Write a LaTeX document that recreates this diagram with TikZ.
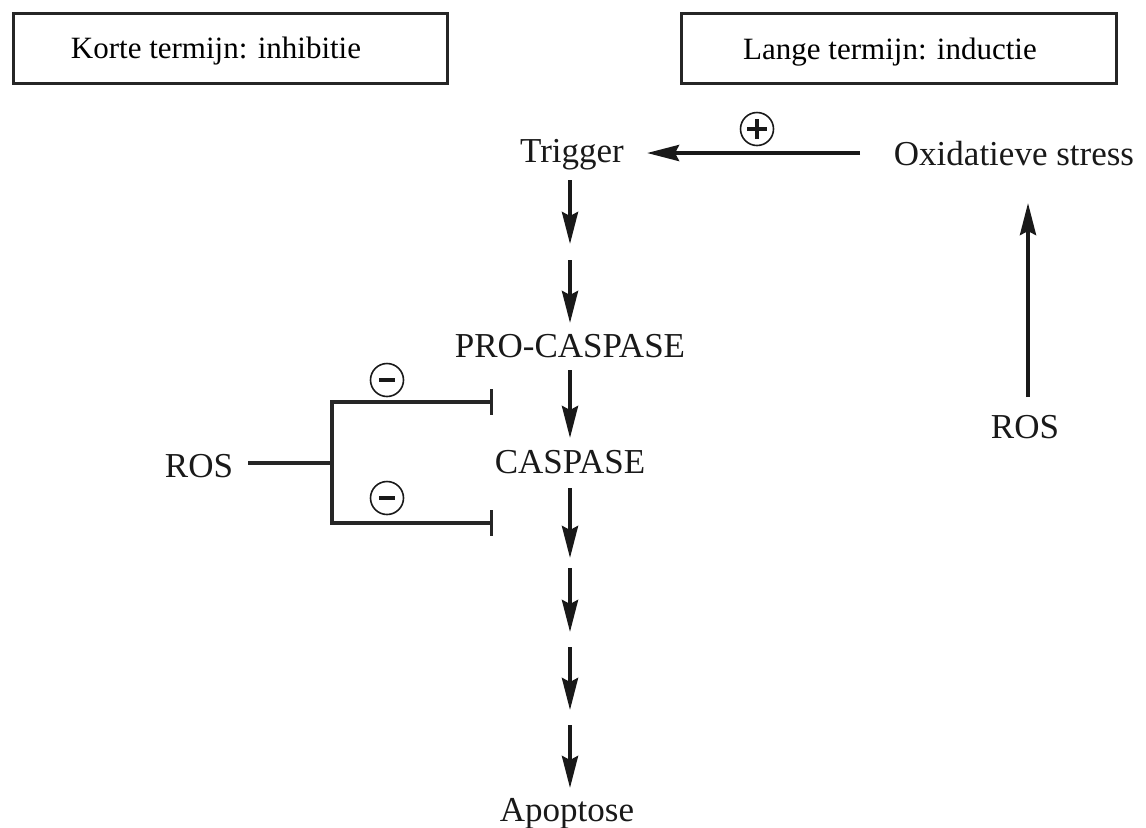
\documentclass[tikz,border=0pt]{standalone}
\usepackage{fontspec}
\setmainfont{Liberation Serif}
\usetikzlibrary{arrows.meta}
\begin{document}
\begin{tikzpicture}[x=0.5pt,y=-0.5pt,
  lbl/.style={anchor=base,inner sep=0pt,text=black!90,font=\fontsize{17.5pt}{20pt}\selectfont},
  boxlbl/.style={anchor=base,inner sep=0pt,font=\fontsize{15.5pt}{18pt}\selectfont},
  frame/.style={draw=black!85,line width=1.5pt,inner sep=0pt,minimum height=35pt},
  arr/.style={draw=black!90,line width=2pt,-{Stealth[length=16pt,width=8pt,inset=2pt]}},
  inh/.style={draw=black!85,line width=1.75pt},
  sign/.style={circle,draw=black!90,line width=0.8pt,minimum size=16.5pt,inner sep=0pt},
  signbar/.style={draw=black!90,line width=1.6pt}]
\useasboundingbox (0,0) rectangle (1146,827);

% header boxes
\node[frame,minimum width=217pt] (boxL) at (230,48) {};
\node[frame,minimum width=217.5pt] (boxR) at (898.5,48) {};
\node[boxlbl] (tL) at (216,58) {Korte termijn: inhibitie};
\node[boxlbl] (tR) at (890,59) {Lange termijn: inductie};

% labels
\node[lbl] (trig) at (572,162) {Trigger};
\node[lbl] (ox) at (1014,165) {Oxidatieve stress};
\node[lbl] (pro) at (570,357) {PRO-CASPASE};
\node[lbl] (casp) at (570,473) {CASPASE};
\node[lbl] (apo) at (567,821) {Apoptose};
\node[lbl] (rosL) at (199,477) {ROS};
\node[lbl] (rosR) at (1025,438) {ROS};

% coordinates of free arrow ends
\coordinate (a1s) at (570,180); \coordinate (a1e) at (570,244);
\coordinate (a2s) at (570,260); \coordinate (a2e) at (570,323);
\coordinate (a3s) at (570,370); \coordinate (a3e) at (570,438);
\coordinate (a4s) at (570,488); \coordinate (a4e) at (570,558);
\coordinate (a5s) at (570,568); \coordinate (a5e) at (570,632);
\coordinate (a6s) at (570,647); \coordinate (a6e) at (570,710);
\coordinate (a7s) at (570,725); \coordinate (a7e) at (570,788);
\coordinate (hs) at (860,153); \coordinate (he) at (647,153);
\coordinate (vs) at (1028,397); \coordinate (ve) at (1028,203);

% main cascade
\draw[arr] (a1s) -- (a1e);
\draw[arr] (a2s) -- (a2e);
\draw[arr] (a3s) -- (a3e);
\draw[arr] (a4s) -- (a4e);
\draw[arr] (a5s) -- (a5e);
\draw[arr] (a6s) -- (a6e);
\draw[arr] (a7s) -- (a7e);

% induction
\draw[arr] (hs) -- (he);
\draw[arr] (vs) -- (ve);
\node[sign] (plus) at (757,129) {};
\draw[signbar] ([xshift=-5pt]plus.center) -- ([xshift=5pt]plus.center);
\draw[signbar] ([yshift=-5pt]plus.center) -- ([yshift=5pt]plus.center);

% inhibition
\coordinate (rl) at (248,463);
\coordinate (fork) at (332,463);
\coordinate (ft) at (332,402);
\coordinate (fb) at (332,523);
\coordinate (it) at (493,402);
\coordinate (ib) at (493,523);
\draw[inh] (rl) -- (fork);
\draw[inh,line cap=rect] (ft) -- (fb);
\draw[inh,-{Bar[width=13pt]}] (ft) -- (it);
\draw[inh,-{Bar[width=13pt]}] (fb) -- (ib);
\node[sign] (min1) at (387,380) {};
\node[sign] (min2) at (387,498) {};
\draw[signbar,line width=2pt] ([xshift=-3.8pt]min1.center) -- ([xshift=3.8pt]min1.center);
\draw[signbar,line width=2pt] ([xshift=-3.8pt]min2.center) -- ([xshift=3.8pt]min2.center);
\end{tikzpicture}
\end{document}
